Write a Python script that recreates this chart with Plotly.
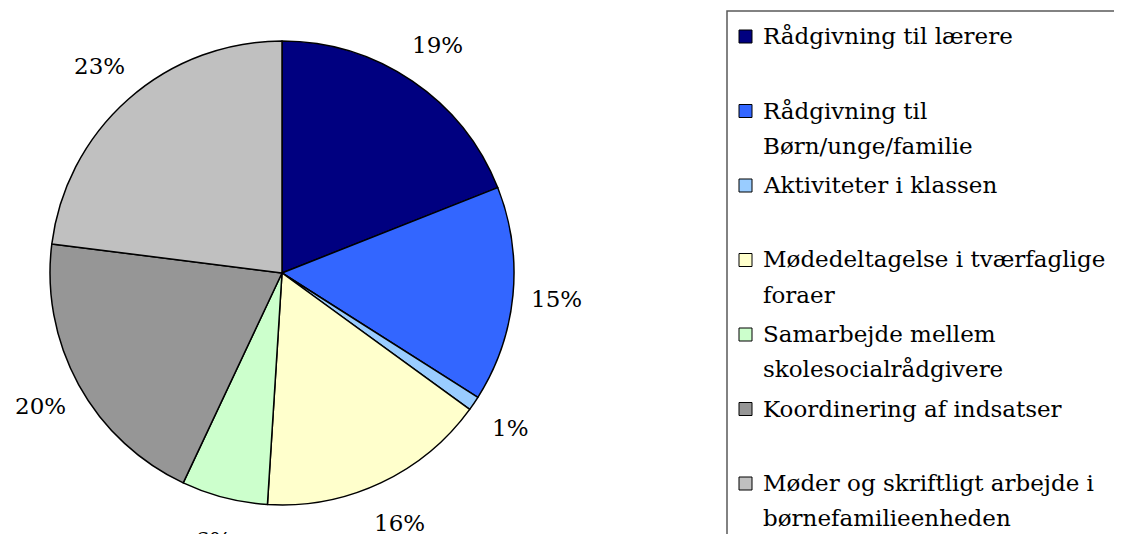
import math
import plotly.graph_objects as go

# ---- data ----
categories = [
    "Rådgivning til lærere",
    "Rådgivning til Børn/unge/familie",
    "Aktiviteter i klassen",
    "Mødedeltagelse i tværfaglige foraer",
    "Samarbejde mellem skolesocialrådgivere",
    "Koordinering af indsatser",
    "Møder og skriftligt arbejde i børnefamilieenheden",
]
legend_lines = [
    ["Rådgivning til lærere"],
    ["Rådgivning til", "Børn/unge/familie"],
    ["Aktiviteter i klassen"],
    ["Mødedeltagelse i tværfaglige", "foraer"],
    ["Samarbejde mellem", "skolesocialrådgivere"],
    ["Koordinering af indsatser"],
    ["Møder og skriftligt arbejde i", "børnefamilieenheden"],
]
values = [19, 15, 1, 16, 6, 20, 23]
colors = ["#000080", "#3366FF", "#99CCFF", "#FFFFCC", "#CCFFCC", "#969696", "#C0C0C0"]

# page body has an 8px margin; size the figure to fit the window
OFF = 8
W, H = 1122 - OFF, 534 - OFF
FONT = "DejaVu Serif"
FS = 23

def px(x):
    return (x - OFF) / W

def py(y):
    return 1 - (y - OFF) / H

# pie geometry (window pixels)
cx, cy, r = 282, 273, 232
label_r = 276

fig = go.Figure()
fig.add_trace(go.Pie(
    labels=categories,
    values=values,
    sort=False,
    direction="clockwise",
    rotation=0,
    marker=dict(colors=colors, line=dict(color="black", width=1.5)),
    textinfo="none",
    domain=dict(x=[px(cx - r), px(cx + r)], y=[py(cy + r), py(cy - r)]),
    automargin=False,
    showlegend=False,
    hoverinfo="label+percent",
))

annotations = []
# percentage labels placed along each slice's mid-angle
total = sum(values)
cum = 0
for v in values:
    frac = v / total
    mid = (cum + frac / 2) * 2 * math.pi
    cum += frac
    lx = cx + label_r * math.sin(mid)
    ly = cy - label_r * math.cos(mid)
    annotations.append(dict(text=f"{round(frac * 100)}%", xref="paper", yref="paper",
                            x=px(lx), y=py(ly), xanchor="center", yanchor="middle",
                            showarrow=False,
                            font=dict(family=FONT, size=FS, color="black")))

# ---- legend (box + swatches + text) ----
shapes = [dict(type="rect", xref="paper", yref="paper",
               x0=px(727), x1=px(1120), y0=py(11), y1=py(560),
               line=dict(color="#595959", width=1.5), fillcolor="rgba(0,0,0,0)")]
first_y = 36
pitch = 74.5
line_gap = 35
for i, (lines, col) in enumerate(zip(legend_lines, colors)):
    y0 = first_y + i * pitch
    shapes.append(dict(type="rect", xref="paper", yref="paper",
                       x0=px(739), x1=px(752), y0=py(y0 - 6), y1=py(y0 + 7),
                       line=dict(color="black", width=1), fillcolor=col))
    for k, t in enumerate(lines):
        annotations.append(dict(text=t, xref="paper", yref="paper",
                                x=px(761), y=py(y0 + k * line_gap),
                                xanchor="left", yanchor="middle", showarrow=False,
                                font=dict(family=FONT, size=FS, color="black")))

fig.update_layout(
    width=W, height=H,
    margin=dict(l=0, r=0, t=0, b=0),
    paper_bgcolor="white", plot_bgcolor="white",
    shapes=shapes, annotations=annotations,
    showlegend=False,
)

fig.write_html("out.html")
